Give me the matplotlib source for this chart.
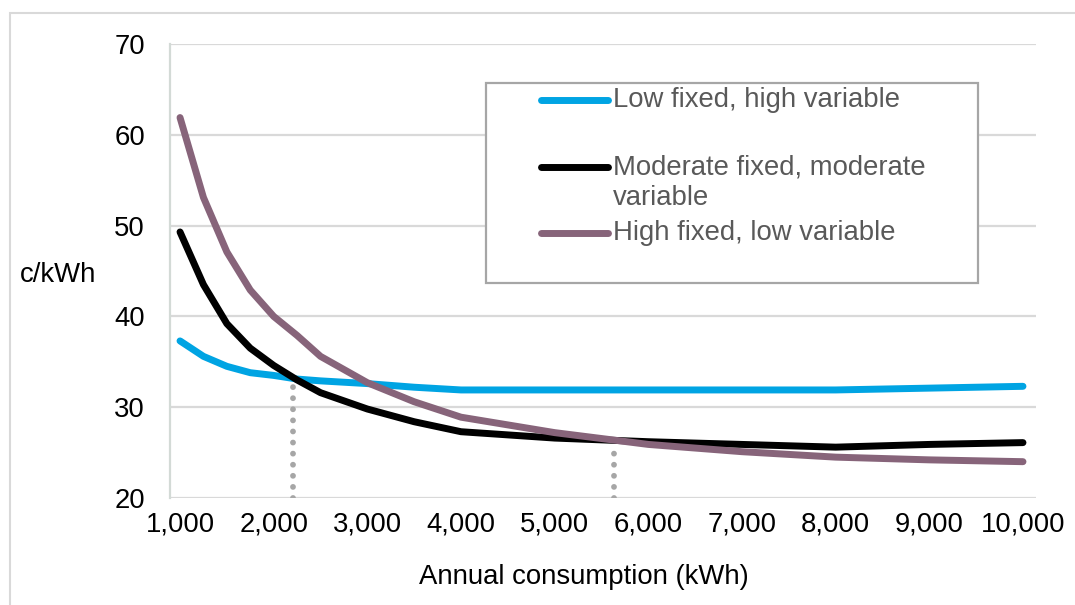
import matplotlib.pyplot as plt
from matplotlib.patches import Rectangle
from matplotlib.lines import Line2D
from matplotlib.ticker import FuncFormatter

plt.rcParams['font.family'] = ['Liberation Sans', 'DejaVu Sans']

# Annual consumption (kWh) at which each tariff was read
consumption = [1000, 1250, 1500, 1750, 2000, 2250, 2500, 3000, 3500, 4000,
               5000, 6000, 7000, 8000, 9000, 10000]

# c/kWh for each tariff
low_fixed = [37.3, 35.6, 34.5, 33.8, 33.5, 33.1, 32.9, 32.6, 32.2, 31.9,
             31.9, 31.9, 31.9, 31.9, 32.1, 32.3]
moderate_fixed = [49.3, 43.5, 39.2, 36.5, 34.6, 33.0, 31.6, 29.8, 28.4, 27.3,
                  26.6, 26.2, 25.9, 25.6, 25.9, 26.1]
high_fixed = [61.9, 53.1, 47.1, 42.9, 40.0, 37.9, 35.6, 32.7, 30.6, 28.9,
              27.2, 25.9, 25.1, 24.5, 24.2, 24.0]

# break-even points marked with dotted lines
crossover_x = [2209, 5630]
crossover_y = [33.0, 26.0]

labels = ['Low fixed, high variable', 'Moderate fixed, moderate', 'High fixed, low variable']
colors = ['#00A4E3', '#000000', '#87647A']

W, H = 1075, 605
fig = plt.figure(figsize=(W / 100, H / 100), dpi=100)
ax = fig.add_axes([170 / W, 1 - 498 / H, 866 / W, 454 / H])

for xv, yv in zip(crossover_x, crossover_y):
    ax.plot([xv, xv], [20, yv], color='#A6A6A6', lw=4.2,
            linestyle=(0, (0.001, 1.9)), dash_capstyle='round', zorder=2)

for ys, c in zip([low_fixed, moderate_fixed, high_fixed], colors):
    ax.plot(consumption, ys, color=c, lw=5.0, solid_capstyle='round',
            solid_joinstyle='round', zorder=3)

ax.set_xlim(893, 10139)
ax.set_ylim(20, 70)
ax.set_xticks(range(1000, 10001, 1000))
ax.set_yticks(range(20, 71, 10))
ax.xaxis.set_major_formatter(FuncFormatter(lambda v, p: f'{int(v):,}'))
ax.tick_params(length=0, labelsize=19.8, colors='#000000')
ax.tick_params(axis='y', pad=18)
ax.tick_params(axis='x', pad=10)
ax.grid(axis='y', color='#D9D9D9', lw=1.6)
ax.set_axisbelow(True)
for s in ['top', 'right', 'bottom']:
    ax.spines[s].set_visible(False)
ax.spines['left'].set_color('#D3DAD6')
ax.spines['left'].set_linewidth(1.6)

fig.text(20 / W, 1 - 275 / H, 'c/kWh', fontsize=19.8, ha='left', va='center')
fig.text(584 / W, 1 - 577 / H, 'Annual consumption (kWh)', fontsize=19.8,
         ha='center', va='center')

# outer chart border
fig.patches.append(Rectangle((10 / W, -0.2), 1.2, 1.2 - 13 / H, fill=False,
                             edgecolor='#D9D9D9', lw=1.5, transform=fig.transFigure))

# legend box drawn by hand
fig.patches.append(Rectangle((486 / W, 1 - 283 / H), 492 / W, 200 / H,
                             facecolor='white', edgecolor='#A6A6A6', lw=1.6,
                             transform=fig.transFigure, zorder=5))
rows = [100, 167, 233]
for lab, c, r in zip(labels, colors, rows):
    fig.lines.append(Line2D([541 / W, 608 / W], [1 - r / H, 1 - r / H], color=c,
                            lw=5.0, solid_capstyle='round',
                            transform=fig.transFigure, zorder=6))
    fig.text(613 / W, 1 - r / H, lab, fontsize=19.8, color='#595959',
             ha='left', va='center', zorder=7)
fig.text(613 / W, 1 - 198 / H, 'variable', fontsize=19.8, color='#595959',
         ha='left', va='center', zorder=7)

fig.savefig('out.png', dpi=100)
